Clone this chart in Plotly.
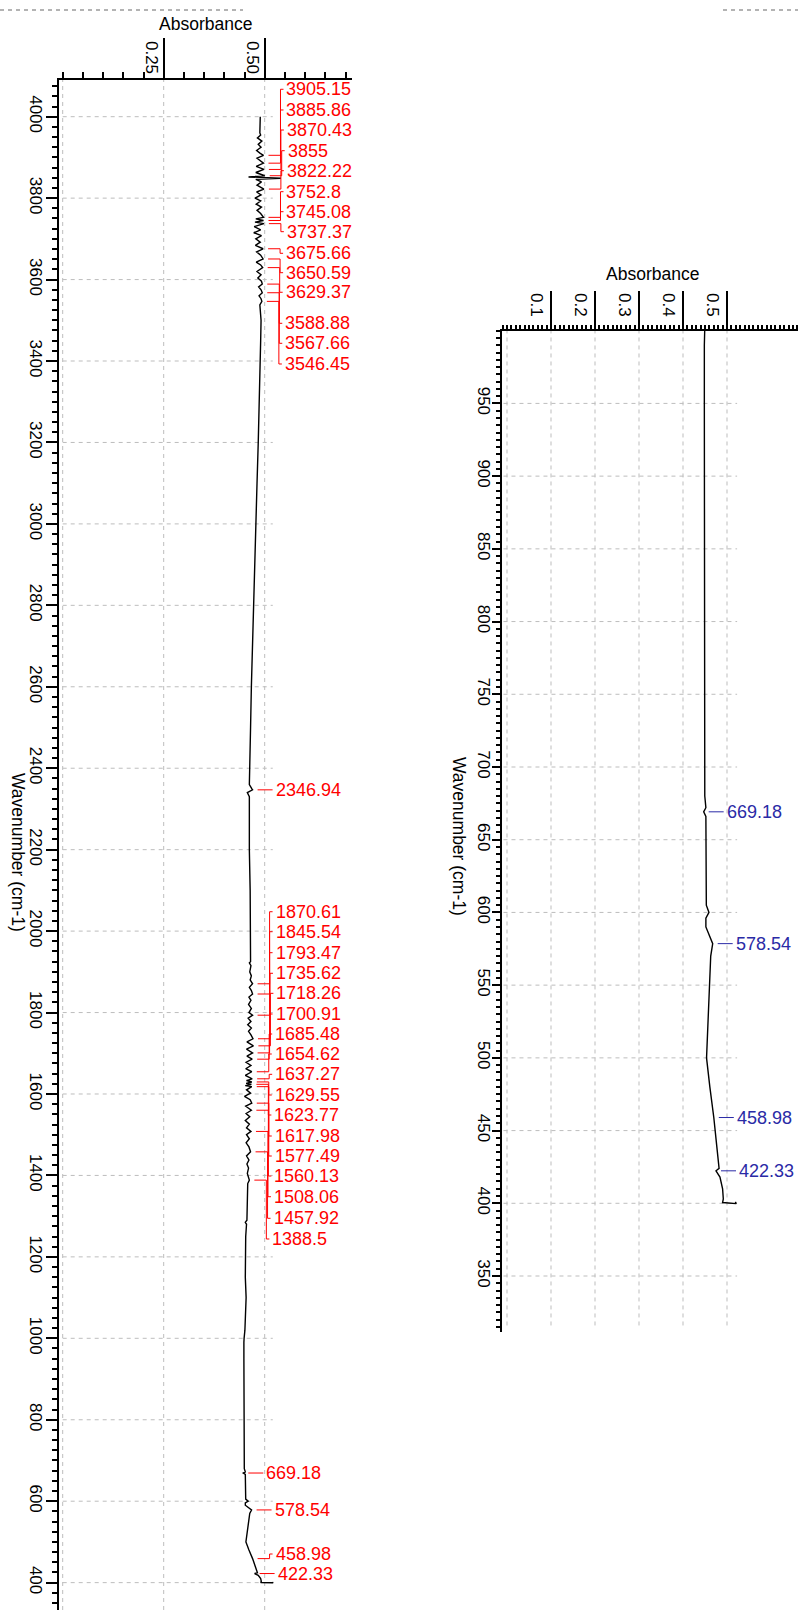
import numpy as np
import plotly.graph_objects as go

# FTIR spectrum: wavenumber (cm-1) and absorbance
wavenumber = [
    4000, 3990, 3975, 3960,
    3955, 3948, 3940, 3932, 3925, 3917, 3910, 3905.15, 3898, 3890, 3885.86, 3878,
    3870.43, 3863, 3855, 3852, 3849, 3846, 3840, 3832, 3822.22, 3815, 3808, 3800,
    3793, 3785, 3778, 3770, 3762, 3752.8, 3749, 3745.08, 3741, 3737.37, 3730, 3722,
    3715, 3708, 3700, 3692, 3684, 3675.66, 3668, 3660, 3650.59, 3643, 3636, 3629.37,
    3620, 3612, 3604, 3596, 3588.88, 3582, 3575, 3567.66, 3560, 3553, 3546.45, 3538,
    3520, 3500, 3450, 3400, 3350, 3300, 3200, 3100, 3000, 2900, 2800, 2700, 2600,
    2500, 2420, 2360, 2350, 2346.94, 2340, 2330, 2300, 2200, 2100, 2000, 1950, 1925,
    1922, 1915, 1900, 1890, 1880, 1870.61, 1862, 1854, 1845.54, 1838, 1830, 1820,
    1810, 1800, 1793.47, 1786, 1778, 1770, 1762, 1754, 1745, 1735.62, 1728, 1718.26,
    1710, 1700.91, 1693, 1685.48, 1678, 1670, 1662, 1654.62, 1646, 1637.27, 1633,
    1629.55, 1626, 1623.77, 1620.5, 1617.98, 1610, 1602, 1594, 1586, 1577.49, 1570,
    1560.13, 1552, 1544, 1535, 1526, 1517, 1508.06, 1500, 1490, 1480, 1470, 1457.92,
    1448, 1438, 1428, 1418, 1405, 1395, 1388.5, 1380, 1300, 1290, 1285, 1280, 1250,
    1200, 1150, 1100, 1060, 1020, 1000, 990, 950, 900, 850, 800, 750, 700, 680, 672,
    669.18, 666, 650, 620, 605, 600, 596, 590, 585, 578.54, 570, 550, 530, 510, 500,
    480, 470, 458.98, 440, 430, 424, 422.33, 418, 410, 403, 400.5, 399.8, 401,
]
absorbance = [
    0.489, 0.489, 0.488, 0.488,
    0.490, 0.482, 0.493, 0.484, 0.491, 0.480, 0.489, 0.497, 0.481, 0.490, 0.497, 0.479,
    0.498, 0.478, 0.500, 0.460, 0.540, 0.478, 0.492, 0.481, 0.498, 0.480, 0.491, 0.476,
    0.490, 0.479, 0.492, 0.481, 0.490, 0.497, 0.478, 0.497, 0.476, 0.498, 0.474, 0.490,
    0.473, 0.492, 0.478, 0.489, 0.477, 0.496, 0.480, 0.490, 0.496, 0.479, 0.490, 0.495,
    0.481, 0.491, 0.483, 0.492, 0.494, 0.485, 0.491, 0.494, 0.486, 0.491, 0.493, 0.488,
    0.490, 0.491, 0.490, 0.489, 0.488, 0.486, 0.484, 0.481, 0.478, 0.476, 0.473, 0.470, 0.467,
    0.465, 0.463, 0.462, 0.468, 0.470, 0.457, 0.462, 0.462, 0.462, 0.464, 0.465, 0.465, 0.465,
    0.462, 0.466, 0.463, 0.467, 0.464, 0.470, 0.462, 0.467, 0.470, 0.461, 0.466, 0.460,
    0.467, 0.461, 0.470, 0.459, 0.466, 0.458, 0.467, 0.460, 0.466, 0.471, 0.456, 0.472,
    0.455, 0.470, 0.456, 0.469, 0.454, 0.466, 0.453, 0.468, 0.452, 0.469, 0.455,
    0.468, 0.454, 0.467, 0.452, 0.468, 0.455, 0.465, 0.450, 0.464, 0.468, 0.453,
    0.467, 0.454, 0.463, 0.452, 0.462, 0.455, 0.466, 0.455, 0.462, 0.454, 0.461, 0.465,
    0.455, 0.461, 0.456, 0.460, 0.457, 0.459, 0.462, 0.458, 0.457, 0.456, 0.452, 0.455, 0.453,
    0.452, 0.452, 0.454, 0.453, 0.451, 0.449, 0.4485, 0.4485, 0.4485, 0.4485, 0.448, 0.4485, 0.449, 0.4495, 0.452,
    0.447, 0.452, 0.452, 0.4525, 0.453, 0.459, 0.452, 0.452, 0.458, 0.4675, 0.463, 0.460, 0.458, 0.454, 0.4535,
    0.461, 0.466, 0.470, 0.4765, 0.480, 0.482, 0.475, 0.484, 0.490, 0.4916, 0.490, 0.521, 0.519,
]

# picked peaks: red on the full-range panel, blue on the zoomed panel
red_peaks = [3905.15, 3885.86, 3870.43, 3855, 3822.22, 3752.8, 3745.08, 3737.37,
             3675.66, 3650.59, 3629.37, 3588.88, 3567.66, 3546.45, 2346.94,
             1870.61, 1845.54, 1793.47, 1735.62, 1718.26, 1700.91, 1685.48, 1654.62,
             1637.27, 1629.55, 1623.77, 1617.98, 1577.49, 1560.13, 1508.06, 1457.92,
             1388.5, 669.18, 578.54, 458.98, 422.33]
# where each red label sits (cm-1), spread out so they don't overlap
red_label_at = [4067.3, 4016.5, 3967.3, 3916.5, 3867.4, 3815.8, 3766.7, 3717.6,
                3664.5, 3616.9, 3568.8, 3492.6, 3443.5, 3392.7, 2346.94,
                2047.6, 1998.5, 1947.0, 1896.4, 1847.2, 1796.4, 1747.3, 1698.2,
                1648.3, 1597.5, 1548.4, 1496.8, 1447.7, 1398.6, 1347.7, 1294.7,
                1243.9, 669.18, 578.54, 470.3, 422.33]
blue_peaks = [669.18, 578.54, 458.98, 422.33]

left_xticks = [0.25, 0.50]
left_xtext = ["0.25", "0.50"]
left_yticks = list(range(400, 4001, 200))
right_xticks = [0.1, 0.2, 0.3, 0.4, 0.5]
right_xtext = ["0.1", "0.2", "0.3", "0.4", "0.5"]
right_yticks = list(range(350, 951, 50))

W, H = 798, 1610
FONT = "Liberation Sans, Arial, sans-serif"
GRID = "#bdbdbd"
RED = "#ff0000"
BLUE = "#2a2aa6"

wn_arr = np.array(wavenumber)
ab_arr = np.array(absorbance)


def px(x):
    return x / W


def py(y):
    return 1 - y / H


fig = go.Figure()

for xa, ya in [("x", "y"), ("x2", "y2")]:
    fig.add_trace(go.Scatter(x=absorbance, y=wavenumber, mode="lines",
                             line=dict(color="black", width=1.4),
                             xaxis=xa, yaxis=ya, showlegend=False, hoverinfo="skip"))


def add_peaks(peaks, label_at, xa, ya, ppu, color):
    xs, ys = [], []
    for p, lab in zip(peaks, label_at):
        x0 = ab_arr[np.argmin(np.abs(wn_arr - p))]
        xs += [x0 + 5 / ppu, x0 + 17 / ppu, x0 + 17 / ppu, x0 + 20 / ppu, None]
        ys += [p, p, lab, lab, None]
        fig.add_annotation(x=x0 + 21 / ppu, y=lab, xref=xa, yref=ya, text=f"{p:g}",
                           showarrow=False, xanchor="left", yanchor="middle",
                           font=dict(family=FONT, size=18, color=color))
    fig.add_trace(go.Scatter(x=xs, y=ys, mode="lines", line=dict(color=color, width=1),
                             xaxis=xa, yaxis=ya, showlegend=False, hoverinfo="skip"))


add_peaks(red_peaks, red_label_at, "x", "y", 404, RED)
add_peaks(blue_peaks, blue_peaks, "x2", "y2", 440, BLUE)

shapes = []
dash = dict(color=GRID, width=1, dash="4px,4px")
# left panel grid
for g in [0.0] + left_xticks:
    shapes.append(dict(type="line", xref="x", yref="y domain", x0=g, x1=g, y0=0, y1=1, line=dash, layer="below"))
for g in left_yticks:
    shapes.append(dict(type="line", xref="x", yref="y", x0=0, x1=0.52, y0=g, y1=g, line=dash, layer="below"))
# right panel grid
for g in [0.0] + right_xticks:
    shapes.append(dict(type="line", xref="x2", yref="y2", x0=g, x1=g, y0=316, y1=1000, line=dash, layer="below"))
for g in right_yticks:
    shapes.append(dict(type="line", xref="x2", yref="y2", x0=-0.008, x1=0.523, y0=g, y1=g, line=dash, layer="below"))
# grid remnants of the panel above
shapes.append(dict(type="line", xref="paper", yref="paper", x0=0, x1=px(243), y0=py(10), y1=py(10),
                   line=dict(color="#9a9a9a", width=1.5, dash="4px,4px")))
shapes.append(dict(type="line", xref="paper", yref="paper", x0=px(723), x1=1, y0=py(10), y1=py(10),
                   line=dict(color="#9a9a9a", width=1.5, dash="4px,4px")))

tickfont = dict(family=FONT, size=17, color="black")
axis_common = dict(showline=True, linecolor="black", linewidth=2, showgrid=False, zeroline=False,
                   ticks="outside", tickcolor="black", tickwidth=1.5, tickfont=tickfont, tickangle=90)

fig.update_layout(
    width=W, height=H, margin=dict(l=0, r=0, t=0, b=0),
    paper_bgcolor="white", plot_bgcolor="white", showlegend=False,
    shapes=shapes,
    xaxis=dict(axis_common, domain=[px(59), px(352)], range=[-0.00916, 0.71609], side="top", anchor="y",
               tickvals=left_xticks, ticktext=left_xtext, ticklen=40,
               ticklabelstandoff=-42, ticklabelshift=-12,
               minor=dict(dtick=0.05, tick0=0, ticklen=6, ticks="outside", tickcolor="black", tickwidth=1.5)),
    yaxis=dict(axis_common, domain=[0, py(80)], range=[332.8, 4090.1], anchor="x",
               tickvals=left_yticks, ticktext=[str(v) for v in left_yticks], ticklen=11,
               ticklabelstandoff=-4,
               minor=dict(dtick=25, tick0=0, ticklen=5, ticks="outside", tickcolor="black", tickwidth=1.5)),
    xaxis2=dict(axis_common, domain=[px(502), 1.0], range=[-0.01136, 0.66136], side="top", anchor="y2",
                tickvals=right_xticks, ticktext=right_xtext, ticklen=38,
                ticklabelstandoff=-32, ticklabelshift=-14,
                minor=dict(dtick=0.01, tick0=0, ticklen=4, ticks="outside", tickcolor="black", tickwidth=1.5)),
    yaxis2=dict(axis_common, domain=[py(1332), py(330.7)], range=[311.5, 1000.0], anchor="x2",
                tickvals=right_yticks, ticktext=[str(v) for v in right_yticks], ticklen=8,
                ticklabelstandoff=-6,
                minor=dict(dtick=5, tick0=0, ticklen=4, ticks="outside", tickcolor="black", tickwidth=1.5)),
)

title_font = dict(family=FONT, size=17.5, color="black")
for tx, ty, text, angle in [(205, 24, "Absorbance", 0), (652, 274, "Absorbance", 0),
                            (18, 852, "Wavenumber (cm-1)", 90), (459, 836, "Wavenumber (cm-1)", 90)]:
    fig.add_annotation(x=px(tx), y=py(ty), xref="paper", yref="paper", text=text,
                       xanchor="center", yanchor="middle", showarrow=False,
                       textangle=angle, font=title_font)

# the page's default 8px body margin would shift the whole chart
fig.write_html("out.html", config={"displayModeBar": False},
               post_script="document.body.style.margin='0px';")
